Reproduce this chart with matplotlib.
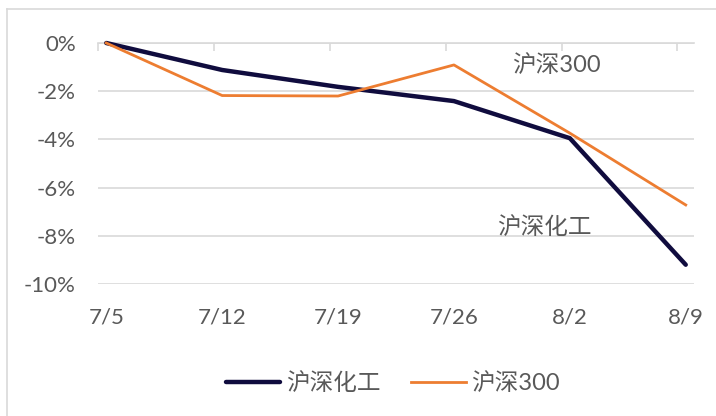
import matplotlib.pyplot as plt
from matplotlib.lines import Line2D
from matplotlib.ticker import FuncFormatter

dates = ['7/5', '7/12', '7/19', '7/26', '8/2', '8/9']
days = [0, 7, 14, 21, 28, 35]
chem = [0.0, -1.12, -1.82, -2.41, -3.95, -9.2]
hs300 = [0.0, -2.18, -2.2, -0.91, -3.74, -6.72]

navy = '#100c3e'
orange = '#ed7d31'
grey_txt = '#595959'
grid = '#d9d9d9'

plt.rcParams['font.family'] = ['Lato', 'Noto Sans CJK SC', 'DejaVu Sans']

fig = plt.figure(figsize=(7.16, 4.16), dpi=100)
ax = fig.add_axes([98 / 716, 1 - 284 / 416, (694 - 98) / 716, (284 - 43) / 416])

# points sit in the middle of their day, like an Excel date axis
xs = [d + 0.5 for d in days]
ax.plot(xs, chem, color=navy, lw=3.2, solid_capstyle='round', label='沪深化工', clip_on=False, zorder=3)
ax.plot(xs, hs300, color=orange, lw=2, label='沪深300', clip_on=False, zorder=4)

ax.set_xlim(0, 36)
ax.set_ylim(-10, 0)
ax.set_yticks([0, -2, -4, -6, -8, -10])
ax.yaxis.set_major_formatter(FuncFormatter(lambda v, p: f'{v:.0f}%'))
ax.tick_params(axis='y', length=0, pad=16, labelsize=16, labelcolor=grey_txt)
ax.grid(axis='y', color=grid, lw=1.2)
ax.set_axisbelow(True)
for s in ['left', 'right', 'bottom']:
    ax.spines[s].set_visible(False)
ax.spines['top'].set_color(grid)
ax.spines['top'].set_linewidth(1.2)

# small tick marks hanging from the 0% line
ax.xaxis.set_ticks_position('top')
ax.set_xticks(days)
ax.tick_params(axis='x', direction='in', length=6, color=grid, width=1.2, labeltop=False)

sec = ax.secondary_xaxis('bottom')
sec.set_xticks(xs)
sec.set_xticklabels(dates)
sec.tick_params(length=0, pad=17, labelsize=16, labelcolor=grey_txt)
sec.spines['bottom'].set_visible(False)

ax.text(25.0, -0.91, '沪深300', fontsize=17, color=grey_txt, va='center', ha='left')
ax.text(24.1, -7.63, '沪深化工', fontsize=17, color=grey_txt, va='center', ha='left')

fig.legend(loc='center', bbox_to_anchor=(393 / 716, 1 - 383 / 416), ncol=2, frameon=False,
           fontsize=17, labelcolor=grey_txt, handlelength=2.3, handletextpad=0.25,
           columnspacing=1.3)

# chart-area border (top and left edges visible)
fig.add_artist(Line2D([7 / 716, 1], [1 - 9 / 416, 1 - 9 / 416], color=grid, lw=1.2))
fig.add_artist(Line2D([7 / 716, 7 / 716], [0, 1 - 9 / 416], color=grid, lw=1.2))

fig.savefig('out.png', dpi=100)
